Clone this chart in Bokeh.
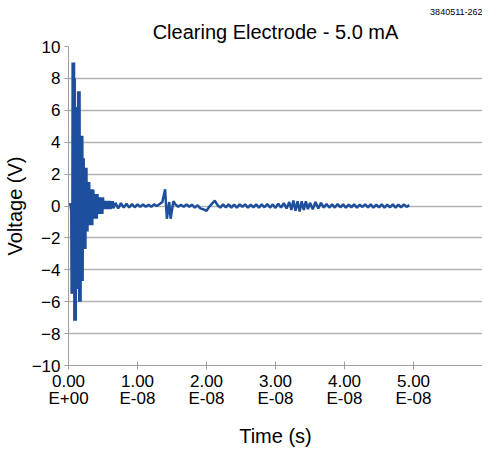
from bokeh.plotting import figure
from bokeh.models import Range1d, FixedTicker, Title
from bokeh.embed import file_html
from bokeh.resources import INLINE

# Burst region (time in ns, voltage in V)
burst_t = [0.0, 0.1, 0.2, 0.3,
           0.40, 0.45, 0.50, 0.55, 0.60, 0.65, 0.70, 0.75, 0.80, 0.85, 0.90, 0.95,
           1.00, 1.05, 1.10, 1.15, 1.20, 1.25, 1.30, 1.35, 1.40, 1.45, 1.50, 1.55,
           1.60, 1.65, 1.70, 1.75, 1.80, 1.85, 1.90, 1.95, 2.00, 2.05, 2.10, 2.15,
           2.20, 2.25, 2.30, 2.35, 2.40, 2.45, 2.50, 2.55, 2.60, 2.65, 2.70, 2.75,
           2.80, 2.85, 2.90, 2.95, 3.00, 3.05, 3.10, 3.15, 3.20, 3.25, 3.30, 3.35,
           3.40, 3.45, 3.50, 3.55,
           3.6, 3.7, 3.8, 3.9, 4.0, 4.1, 4.2, 4.3, 4.4, 4.5, 4.6, 4.7,
           4.8, 4.9, 5.0, 5.1, 5.2, 5.3, 5.4, 5.5, 5.6, 5.7, 5.8, 5.9, 6.0, 6.1, 6.2, 6.3,
           6.4, 6.5]
burst_v = [0.1, 0.15, 0.05, 0.1,
           -0.3, -5.5, 0.2, -5.5, 9.0, -5.5, 9.0, -5.5, 9.0, -7.2, 8.0, -7.2,
           6.2, -7.2, 6.2, -5.2, 6.2, -5.2, 6.2, -5.2, 7.2, -5.2, 7.2, -6.0,
           7.2, -6.0, 4.4, -6.0, 4.4, -4.7, 4.4, -4.7, 4.4, -4.7, 3.0, -2.7,
           3.0, -2.7, 2.4, -2.7, 2.4, -2.7, 2.4, -1.6, 2.4, -1.6, 1.5, -1.6,
           1.5, -1.2, 1.5, -1.2, 1.5, -1.2, 1.05, -1.2, 1.05, -1.2, 1.05, -1.2,
           1.05, -1.2, 1.05, -0.8,
           1.0, -0.8, 0.75, -0.8, 0.75, -0.8, 0.75, -0.5, 0.55, -0.5, 0.55, -0.5,
           0.55, -0.5, 0.55, -0.2, 0.33, -0.2, 0.33, -0.2, 0.33, -0.2, 0.33, -0.2, 0.33, -0.2, 0.3, -0.15,
           0.3, -0.15]

# Tail region (time in ns, voltage in V)
tail_t = [6.8, 7.2, 7.6, 8.0, 8.4, 8.8, 9.2, 9.6, 10.0, 10.4, 10.8, 11.2, 11.6, 12.0, 12.4,
          12.8, 13.2, 13.6, 14.0, 14.26, 14.6, 14.8, 15.2, 15.5, 15.9, 16.3, 16.7, 17.1, 17.5,
          17.9, 18.3, 18.7, 19.1, 19.5, 20.0, 20.4, 20.8, 21.2, 21.6, 22.0, 22.4, 22.8, 23.2,
          23.6, 24.0, 24.4, 24.8, 25.2, 25.6, 26.0, 26.4, 26.8, 27.2, 27.6, 28.0, 28.4, 28.8,
          29.2, 29.6, 30.0, 30.4, 30.8, 31.2, 31.6, 32.0, 32.3, 32.6, 32.9, 33.2, 33.5, 33.8,
          34.1, 34.4, 34.7, 35.0, 35.4, 35.8, 36.2, 36.6, 37.0, 37.4, 37.8, 38.2, 38.6, 39.0,
          39.4, 39.8, 40.2, 40.6, 41.0, 41.4, 41.8, 42.2, 42.6, 43.0, 43.4, 43.8, 44.2, 44.6,
          45.0, 45.4, 45.8, 46.2, 46.6, 47.0, 47.4, 47.8, 48.2, 48.6, 49.0, 49.4]
tail_v = [0.2, -0.15, 0.18, -0.1, 0.15, -0.1, 0.12, -0.08, 0.1, -0.06, 0.1, -0.05, 0.08, -0.05, 0.1,
          0.0, 0.12, 0.25, 1.05, -0.8, 0.25, -0.8, 0.3, 0.1, -0.05, 0.08, -0.05, 0.1, -0.05,
          0.08, -0.1, 0.05, -0.15, -0.2, -0.3, -0.05, 0.15, 0.33, 0.05, -0.1, 0.1, -0.08, 0.1,
          -0.1, 0.08, -0.1, 0.1, -0.05, 0.1, -0.1, 0.08, -0.08, 0.1, -0.1, 0.1, -0.08, 0.12,
          -0.1, 0.1, -0.12, 0.15, -0.1, 0.18, -0.15, 0.25, -0.25, 0.35, -0.3, 0.3, -0.35, 0.3,
          -0.25, 0.3, -0.2, 0.2, -0.2, 0.25, -0.15, 0.2, -0.1, 0.12, -0.1, 0.1, -0.1, 0.12,
          -0.08, 0.1, -0.1, 0.08, -0.08, 0.1, -0.1, 0.08, -0.06, 0.1, -0.08, 0.1, -0.1, 0.08,
          -0.08, 0.1, -0.1, 0.08, -0.08, 0.1, -0.1, 0.08, -0.08, 0.1, -0.05, 0.05]

x_ticks = [0, 10, 20, 30, 40, 50, 60]
x_labels = ["0.00\nE+00", "1.00\nE-08", "2.00\nE-08", "3.00\nE-08", "4.00\nE-08", "5.00\nE-08", ""]
y_ticks = [-10, -8, -6, -4, -2, 0, 2, 4, 6, 8, 10]
y_labels = ["\u221210", "\u22128", "\u22126", "\u22124", "\u22122", "0", "2", "4", "6", "8", "10"]

FONT = "Liberation Sans"

p = figure(width=482, height=449, output_backend="svg", toolbar_location=None,
           x_range=Range1d(0, 60), y_range=Range1d(-10, 10),
           min_border_left=59, min_border_right=0, min_border_top=46, min_border_bottom=81)
p.outline_line_color = None

# outer (small id label)
p.title.text = "3840511-262"
p.title.align = "right"
p.title.text_font = FONT
p.title.text_font_size = "9px"
p.title.text_font_style = "normal"
p.title.text_color = "black"
p.title.standoff = 0
p.title.offset = 0

# inner (main title)
p.add_layout(Title(text="Clearing Electrode - 5.0 mA", align="center", text_font=FONT,
                   text_font_size="20px", text_font_style="normal", text_color="black",
                   standoff=8), "above")

p.line(burst_t + tail_t, burst_v + tail_v, line_color="#1d4f9c", line_width=2.5)

p.xaxis.ticker = FixedTicker(ticks=x_ticks)
p.xaxis.major_label_overrides = dict(zip(x_ticks, x_labels))
p.yaxis.ticker = FixedTicker(ticks=y_ticks)
p.yaxis.major_label_overrides = dict(zip(y_ticks, y_labels))
p.xaxis.axis_label = "Time (s)"
p.yaxis.axis_label = "Voltage (V)"
for ax in (p.xaxis, p.yaxis):
    ax.axis_label_text_font = FONT
    ax.axis_label_text_font_size = "20px"
    ax.axis_label_text_font_style = "normal"
    ax.axis_label_text_color = "black"
    ax.major_label_text_font = FONT
    ax.major_label_text_font_size = "17px"
    ax.major_label_text_color = "black"
    ax.major_label_text_line_height = 0.9
    ax.axis_line_color = "#a0a0a0"
    ax.major_tick_line_color = "#a0a0a0"
    ax.minor_tick_line_color = None
p.xaxis.major_tick_in = 4
p.xaxis.major_tick_out = 4
p.xaxis.major_label_standoff = 2
p.xaxis.axis_label_standoff = 14
p.yaxis.major_tick_in = 0
p.yaxis.major_tick_out = 4
p.yaxis.major_label_standoff = 4
p.yaxis.axis_label_standoff = 3

p.xgrid.grid_line_color = None
p.ygrid.grid_line_color = "#b4b4b4"
p.ygrid.grid_line_width = 1.3

open("out.html", "w").write(file_html(p, INLINE))
